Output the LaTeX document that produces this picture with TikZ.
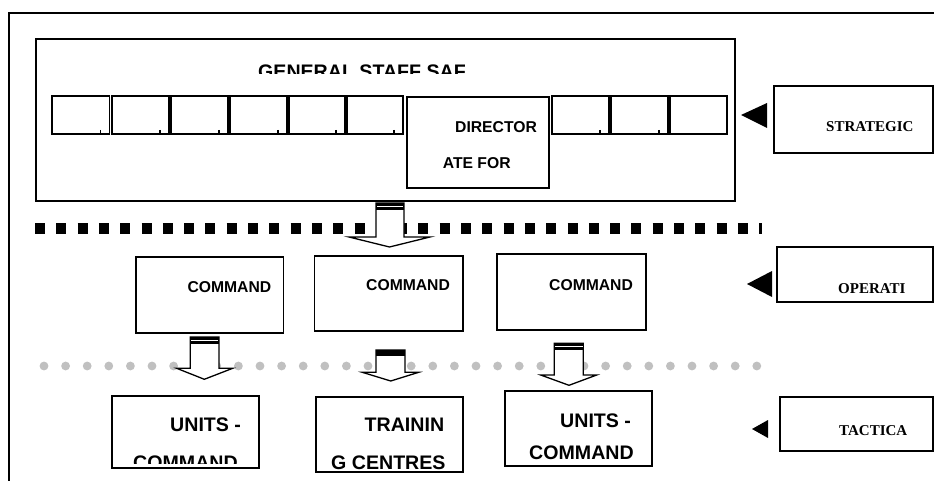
\documentclass[tikz,border=0pt]{standalone}
\usepackage{fontspec}
\setmainfont{Liberation Sans}
\newfontfamily\tnr{Liberation Serif}
\definecolor{dotgray}{RGB}{192,192,192}
\newcommand\mkbox[5]{\node[box, minimum width={(#4)-(#2)}, minimum height={(#5)-(#3)}] (#1) at (#2,#3) {};}
\begin{document}
\begin{tikzpicture}[x=1pt,y=-1pt,
 box/.style={draw, line width=1.5pt, inner sep=0pt, outer sep=0pt, anchor=north west},
 lbl/.style={inner sep=0pt, anchor=base west, font=\bfseries\fontsize{15.7}{16}\selectfont},
 big/.style={inner sep=0pt, anchor=base west, font=\bfseries\fontsize{19.6}{20}\selectfont},
 lvl/.style={inner sep=0pt, anchor=base west, font=\tnr\bfseries\fontsize{15}{16}\selectfont},
 blockarrow/.style={draw, fill=white, line width=1.3pt, line join=miter},
 tick/.style={line width=1.2pt},
]
\useasboundingbox (0,0) rectangle (934,481);
\fill[white] (0,0) rectangle (934,481);
% frame
\draw[line width=1.5pt] (9,481) -- (9,13) -- (934,13);

% general staff
\mkbox{gs}{36}{39}{735}{201}
\begin{scope}
\clip (36,39) rectangle (735,74);
\node[big, anchor=base] (title) at (362,79) {GENERAL STAFF SAF};
\end{scope}
\mkbox{s1}{52}{96}{109.5}{134}
\mkbox{s2}{112}{96}{169}{134}
\mkbox{s3}{171}{96}{228}{134}
\mkbox{s4}{230}{96}{287}{134}
\mkbox{s5}{289}{96}{345}{134}
\mkbox{s6}{347}{96}{403}{134}
\mkbox{dir}{407}{97}{549}{188}
\mkbox{s7}{552}{96}{609}{134}
\mkbox{s8}{611}{96}{668}{134}
\mkbox{s9}{670}{96}{727}{134}
\foreach \n in {s1,s2,s3,s4,s5,s6,s7,s8}
  \draw[tick] ([xshift=-9pt,yshift=4pt]\n.south east) -- ++(0,3);
\node[lbl] (dirA) at (455,132.3) {DIRECTOR};
\node[lbl] (dirB) at (442.7,169) {ATE FOR};

% level boxes
\mkbox{strat}{774}{86}{933}{153}
\node[lvl] (stratT) at (826,131.7) {STRATEGIC};
\fill (741,115) -- (767,103) -- (767,128) -- cycle;
\mkbox{oper}{777}{247}{933}{302}
\node[lvl] (operT) at (838,293) {OPERATI};
\fill (747,284) -- (772,271) -- (772,297) -- cycle;
\mkbox{tact}{780}{397}{933}{451}
\node[lvl] (tactT) at (839,435) {TACTICA};
\fill (752,429) -- (768,420) -- (768,438) -- cycle;

% separators
\draw[line width=10.5pt, dash pattern=on 10pt off 11.3pt] (35,228.5) -- (762,228.5);
\foreach \i in {0,...,33} \fill[dotgray] ({44+21.6*\i},366) circle (4.4pt);

% commands
\mkbox{c1}{136}{257}{283.5}{333}
\mkbox{c2}{314.5}{256}{463}{331}
\mkbox{c3}{497}{254}{646}{330}
\node[lbl] (c1T) at (187.3,292.7) {COMMAND};
\node[lbl] (c2T) at (366,290.7) {COMMAND};
\node[lbl] (c3T) at (549,290) {COMMAND};

% tactical boxes
\mkbox{u1}{112}{396}{259}{468}
\mkbox{u2}{316}{397}{463}{472}
\mkbox{u3}{505}{391}{652}{466}
\node[big] (u1A) at (170,431) {UNITS -};
\begin{scope}
\clip (112,396) rectangle (259,463);
\node[big] (u1B) at (133,469) {COMMAND};
\end{scope}
\node[big] (u2A) at (364.5,431) {TRAININ};
\node[big] (u2B) at (331,469) {G CENTRES};
\node[big] (u3A) at (560,427) {UNITS -};
\node[big] (u3B) at (529,459) {COMMAND};

% block arrows
\draw[blockarrow] (376,203) -- (376,237) -- (349,237) -- (389.5,247) -- (430,237) -- (404,237) -- (404,203) -- cycle;
\fill (376,203) rectangle (404,210.5);
\draw[white, line width=1pt] (377,206.7) -- (403,206.7);

\draw[blockarrow] (190.3,337) -- (190.3,368.3) -- (176.7,368.3) -- (204.3,379.3) -- (232.7,368.3) -- (219,368.3) -- (219,337) -- cycle;
\fill (190.3,337) rectangle (219,344);
\draw[white, line width=1pt] (191,340.5) -- (218.3,340.5);

\draw[blockarrow] (376,350) -- (376,372.3) -- (362.3,372.3) -- (390.7,381) -- (418.7,372.3) -- (405,372.3) -- (405,350) -- cycle;
\fill (376,350) rectangle (405,356);

\draw[blockarrow] (554.3,343.3) -- (554.3,375) -- (540.7,375) -- (569,385.3) -- (596.7,375) -- (583.3,375) -- (583.3,343.3) -- cycle;
\fill (554.3,343.3) rectangle (583.3,350.3);
\draw[white, line width=1pt] (555,346.8) -- (582.6,346.8);
\end{tikzpicture}
\end{document}
